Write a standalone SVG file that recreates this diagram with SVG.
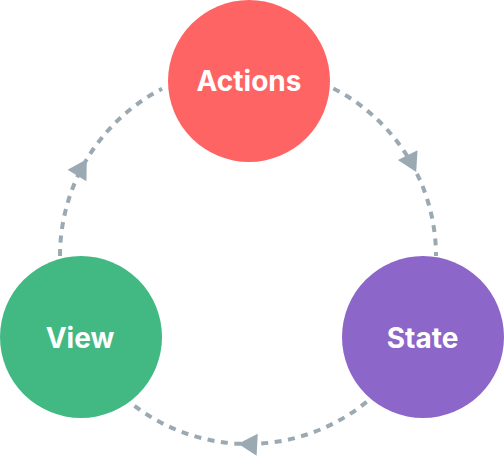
<svg xmlns="http://www.w3.org/2000/svg" width="504" height="463" viewBox="0 0 504 463">
  <style>
    .flow { fill: none; stroke: #9BA9B3; stroke-width: 4; stroke-dasharray: 7 6.5; marker-mid: url(#arrow); }
    .label { font-family: Inter, "Noto Sans", "Liberation Sans", sans-serif; font-weight: 700; font-size: 28px; fill: #FFFFFF; text-anchor: middle; }
  </style>
  <defs>
    <marker id="arrow" markerUnits="userSpaceOnUse" markerWidth="24" markerHeight="24" viewBox="-20 -12 22 24" refX="0" refY="0" orient="auto" overflow="visible">
      <path d="M-19,-11 L0,0 L-19,11 Z" fill="#9BA9B3"/>
    </marker>
  </defs>
  <rect width="504" height="463" fill="#FFFFFF"/>
  <g id="connectors">
    <path class="flow" d="M333.35,88.5 A188,188 0 0 1 416.2,172.1 A188,188 0 0 1 436,256"/>
    <path class="flow" d="M366.6,401.9 A188,188 0 0 1 238.2,443.7 A188,188 0 0 1 130.2,402.5"/>
    <path class="flow" d="M60,256 A188,188 0 0 1 86.8,159.2 A188,188 0 0 1 162.1,88.8"/>
  </g>
  <g id="actions">
    <circle cx="249" cy="81" r="81" fill="#FF6464"/>
    <text class="label" x="249" y="91">Actions</text>
  </g>
  <g id="view">
    <circle cx="81" cy="337" r="81" fill="#42B983"/>
    <text class="label" x="80" y="348">View</text>
  </g>
  <g id="state">
    <circle cx="423" cy="337" r="81" fill="#8D66C9"/>
    <text class="label" x="422.5" y="347.5">State</text>
  </g>
</svg>
